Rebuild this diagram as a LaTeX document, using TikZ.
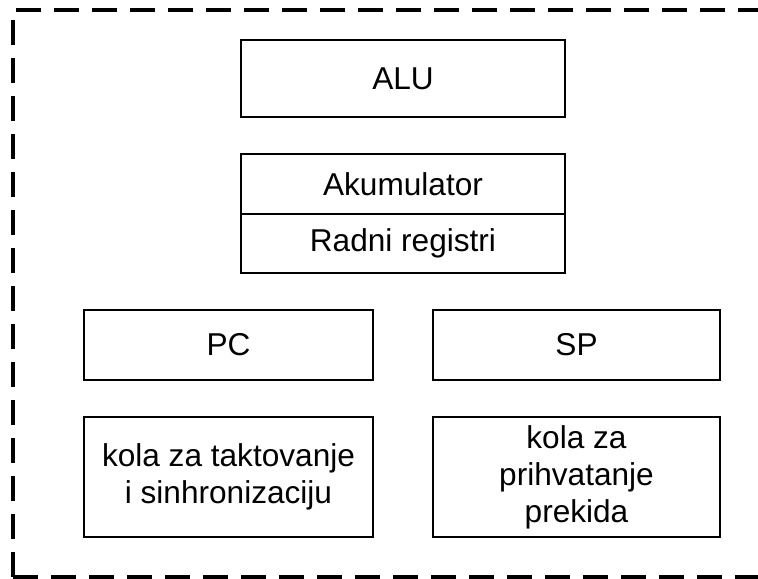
\documentclass[tikz,border=0pt]{standalone}
\usepackage{fontspec}
\setmainfont{Liberation Sans}
\usetikzlibrary{positioning}
\tikzset{every picture/.style={line width=0.75pt}}

\begin{document}
\begin{tikzpicture}[x=0.75pt,y=0.75pt,yscale=-1,xscale=1,
    blok/.style={draw, line width=1.4pt, inner sep=0pt, outer sep=0pt, align=center,
      font=\fontsize{23.7}{27.75}\selectfont},
    okvir/.style={line width=2.4pt, dash pattern=on 18.5pt off 10pt}]
        \useasboundingbox (0,0) rectangle (758,579);
        \clip (0,0) rectangle (758,579);
        %Dashed frame
        \coordinate (ol) at (13,577);
        \coordinate (gl) at (13,10);
        \draw [okvir] (ol) -- (gl) -- ++(760,0);
        \draw [okvir] (ol) -- ++(760,0);
        % ALU
        \node [blok, minimum width=243pt, minimum height=57.75pt] (alu) at (403,78.5) {ALU};
        % Akumulator + registri
        \node [blok, minimum width=243pt, minimum height=45pt] (akum) at (403,184) {Akumulator};
        \node [blok, minimum width=243pt, minimum height=44.25pt, below=0pt of akum] (radni) {Radni registri};
        % PC, SP
        \node [blok, minimum width=216.75pt, minimum height=52.5pt] (pc) at (228.5,345) {PC};
        \node [blok, minimum width=215.25pt, minimum height=52.5pt] (sp) at (576.5,345) {SP};
        % Kola
        \node [blok, minimum width=216.75pt, minimum height=90pt] (takt) at (228.5,477) {kola za taktovanje\\i sinhronizaciju};
        \node [blok, minimum width=215.25pt, minimum height=90pt] (prek) at (576.5,477) {kola za\\prihvatanje\\prekida};
\end{tikzpicture}
\end{document}
